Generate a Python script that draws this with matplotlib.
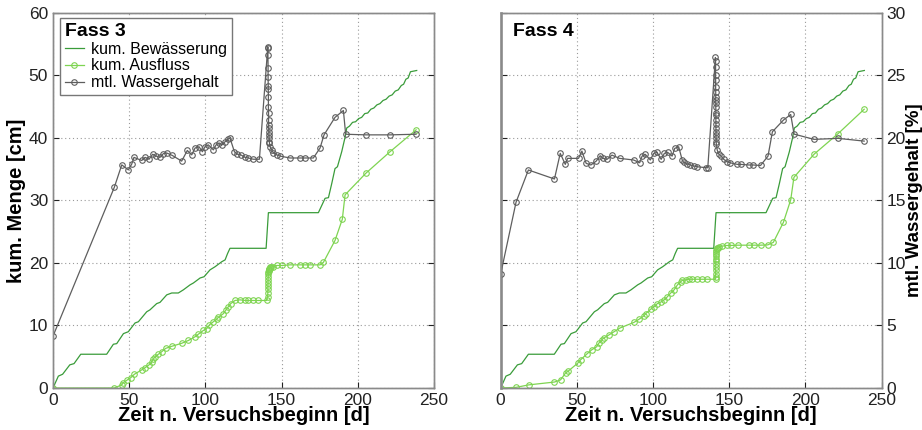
import matplotlib
matplotlib.use("Agg")
import matplotlib.pyplot as plt

plt.rcParams['font.family'] = ['Liberation Sans', 'DejaVu Sans']

# kum. Bewaesserung (same for both barrels) [cm]
bew_t = [0, 3.5, 6.3, 11, 13.8, 18.2, 35.2, 39.6, 41.8, 46.2,
         49.4, 53.8, 56, 61.5, 63.6, 68, 70.2, 74.6, 77.9, 82.2,
         85.5, 89.9, 92.1, 96.5, 99.1, 103, 106.3, 110.7, 112.9, 114.5,
         116.1, 139.8, 141.3, 174.1, 178.5, 180.7, 182.9, 185, 186.6, 189.4,
         191.5, 192.7, 194.5, 196.5, 198.5, 200.5, 202.5, 204.5, 206.5, 208.5,
         210.5, 212.5, 214.5, 216.5, 218.5, 220.5, 222.5, 224.5, 226.5, 228.5,
         230, 231.5, 233, 234.5, 238.6]
bew_cm = [0, 1.9, 2.2, 3.7, 3.9, 5.4, 5.4, 7.0, 7.1, 8.7,
          9.0, 10.4, 10.6, 12.2, 12.5, 13.5, 13.7, 14.9, 15.2, 15.2,
          15.7, 16.5, 16.8, 17.6, 17.8, 18.9, 19.4, 20.2, 20.5, 21.5,
          22.35, 22.35, 28.05, 28.05, 30.35, 30.45, 32.75, 35.1, 35.4, 37.8,
          40.0, 41.6, 41.9, 42.5, 42.6, 43.1, 43.3, 43.9, 44.0, 44.6,
          44.8, 45.3, 45.5, 46.0, 46.2, 46.7, 46.9, 47.5, 47.7, 48.4,
          48.6, 49.4, 49.6, 50.6, 50.8]

# Fass 3 - kum. Ausfluss [cm]
aus3_t = [0, 40.2, 45.1, 46.1, 48.8, 51, 53.4, 58.2, 60.4, 63,
          64.7, 65.8, 66.9, 69.1, 71.3, 74, 78.3, 84.4, 88.8, 93.2,
          95.3, 98.6, 100.8, 102.6, 105.2, 107.4, 108.5, 111.8, 113.5, 115,
          116.6, 119.4, 122.7, 126, 127.8, 131.4, 134.6, 140.2,
          140.8, 140.9, 141.0, 141.0, 141.1, 141.1, 141.2, 141.2, 141.3, 141.4,
          141.5, 141.7, 141.9, 142.2, 142.6, 143.3,
          144.6, 146.8, 150.1, 155.5, 162.1, 165.4, 168.6, 175.2, 177.4, 185,
          189.8, 191.6, 205.2, 221.1, 238.2]
aus3_cm = [0, 0, 0.5, 0.85, 1.3, 1.65, 2.2, 2.9, 3.25, 3.7,
           4.15, 4.6, 5.0, 5.4, 5.8, 6.35, 6.7, 7.15, 7.6, 8.2,
           8.6, 9.2, 9.5, 10.1, 10.6, 11.0, 11.3, 11.9, 12.5, 13.0,
           13.5, 14.0, 14.1, 14.0, 14.0, 14.0, 14.0, 14.0,
           14.6, 15.2, 15.8, 16.3, 16.8, 17.3, 17.8, 18.2, 18.5, 18.7,
           18.9, 19.0, 19.1, 19.2, 19.3, 19.35,
           19.4, 19.6, 19.6, 19.7, 19.7, 19.7, 19.7, 19.7, 20.1, 23.6,
           27.0, 30.9, 34.35, 37.8, 41.3]

# Fass 3 - mtl. Wassergehalt [%]
wg3_t = [0, 40.2, 45.1, 49.4, 51.6, 53.1, 58.2, 60.4, 63, 65.4,
         67.6, 70.2, 72.4, 74.6, 78.3, 84.4, 88.1, 91, 93.2, 95.8,
         98, 99.7, 101.9, 105.2, 107, 109, 110.7, 112.9, 114.6, 116.1,
         119, 121, 123.2, 126, 128.2, 131.4, 135.4,
         140.9, 141.0, 141.0, 141.1, 141.1, 141.2, 141.2, 141.3, 141.3, 141.4,
         141.4, 141.5, 141.5, 141.6, 141.7, 141.8, 141.9, 142.0,
         142.4, 143.5, 144.6, 146.8, 149, 155.5, 162.1, 165.4, 170.8, 175.2,
         177.8, 185, 190.5, 192, 205.2, 221.1, 238.2]
wg3_pct = [4.15, 16.05, 17.85, 17.45, 17.9, 18.45, 18.2, 18.45, 18.3, 18.7,
           18.55, 18.45, 18.75, 18.8, 18.6, 18.15, 19.0, 18.65, 19.2, 19.3,
           18.9, 19.3, 19.45, 19.05, 19.45, 19.6, 19.45, 19.7, 19.9, 20.0,
           18.9, 18.7, 18.65, 18.45, 18.4, 18.3, 18.3,
           27.3, 27.2, 26.65, 25.6, 24.9, 24.15, 23.9, 23.3, 22.5, 22.0,
           21.45, 21.05, 20.8, 20.5, 20.25, 20.0, 19.7, 19.6,
           19.3, 19.05, 18.8, 18.65, 18.55, 18.4, 18.4, 18.4, 18.4, 19.2,
           20.25, 21.65, 22.2, 20.3, 20.25, 20.25, 20.3]

# Fass 4 - kum. Ausfluss [cm]
aus4_t = [0, 10.1, 18.5, 35.3, 39.3, 42.6, 44.1, 50.7, 52.4, 56.4,
          59.7, 63, 64.5, 66.3, 67.8, 71.1, 74.4, 78.3, 87.5, 90.8,
          94.1, 95.2, 98.4, 100.7, 102.8, 105.5, 107.2, 109.4, 111.6, 113.8,
          116, 118.1, 119.1, 121.3, 123.5, 125.7, 129, 132.3, 135.6, 141.0,
          141.0, 141.0, 141.05, 141.1, 141.1, 141.15, 141.2, 141.25, 141.3, 141.4,
          141.5, 141.7, 142.0, 142.4,
          143.1, 145.4, 148.2, 150.8, 155.6, 162.9, 166.1, 170.5, 175.3, 178.9,
          185.5, 190.3, 192.4, 205.6, 221.4, 238.5]
aus4_cm = [0, 0.1, 0.5, 0.95, 1.3, 2.4, 2.65, 4.0, 4.5, 5.4,
           6.1, 6.6, 7.2, 7.7, 8.0, 8.5, 9.0, 9.6, 10.5, 11.0,
           11.55, 11.9, 12.6, 13.0, 13.5, 13.8, 14.1, 14.6, 15.2, 15.7,
           16.5, 17.0, 17.2, 17.3, 17.4, 17.4, 17.4, 17.4, 17.4, 17.4,
           17.8, 18.3, 18.8, 19.3, 19.8, 20.3, 20.7, 21.1, 21.5, 21.8,
           22.0, 22.2, 22.35, 22.45,
           22.6, 22.7, 22.8, 22.8, 22.85, 22.85, 22.85, 22.85, 22.9, 23.3,
           26.5, 30.1, 33.7, 37.4, 40.7, 44.6]

# Fass 4 - mtl. Wassergehalt [%]
wg4_t = [0, 10.1, 18.2, 35.3, 39.1, 42.4, 43.9, 51.1, 53.3, 56.1,
         59.2, 62.7, 65.3, 67.1, 69.8, 73, 78.0, 87.2, 91.2, 92.8,
         94.9, 98.2, 100.4, 102.6, 105.3, 107.4, 109.6, 112.5, 114.2, 116.8,
         119.1, 120.1, 122.4, 124.5, 126.7, 128.9, 135, 135.9,
         140.9, 141.0, 141.0, 141.0, 141.05, 141.05, 141.1, 141.1, 141.1, 141.15,
         141.15, 141.2, 141.2, 141.2, 141.25, 141.25, 141.3, 141.3, 141.35, 141.4,
         141.5,
         142.1, 143.1, 144.7, 146.4, 148.6, 150.4, 155.2, 157.4, 162.9, 165.7,
         170.5, 175.4, 178.3, 185.5, 190.3, 192.5, 205.6, 221.4, 238.5]
wg4_pct = [9.1, 14.86, 17.44, 16.72, 18.77, 17.89, 18.37, 18.37, 18.95, 17.97,
           17.84, 18.15, 18.58, 18.37, 18.29, 18.63, 18.37, 18.24, 18.02, 18.55,
           18.69, 18.24, 18.77, 18.85, 18.29, 18.77, 18.85, 18.55, 19.17, 19.3,
           18.24, 18.05, 17.92, 17.84, 17.76, 17.7, 17.62, 17.62,
           26.44, 26.17, 25.69, 25.02, 24.62, 24.09, 23.69, 23.29, 23.03, 22.76,
           22.49, 21.96, 21.83, 21.43, 21.11, 20.77, 20.5, 20.24, 19.97, 19.7,
           19.51,
           19.03, 18.71, 18.55, 18.29, 18.1, 18.02, 17.89, 17.89, 17.84, 17.84,
           17.8, 18.55, 20.5, 21.43, 21.88, 20.31, 19.89, 19.97, 19.75]

c_bew = '#3a9c3a'
c_aus = '#7ed451'
c_wg = '#5e5e5e'
spine_c = '#8a8a8a'
ms = 4.0

fig = plt.figure(figsize=(9.22, 4.30), dpi=100)


def setup(ax, ylim, yticks):
    ax.set_xlim(0, 250)
    ax.set_ylim(*ylim)
    ax.set_xticks([0, 50, 100, 150, 200, 250])
    ax.set_yticks(yticks)
    ax.tick_params(direction='in', length=4, labelsize=12.5, colors='#222222')
    for s in ax.spines.values():
        s.set_color(spine_c)
        s.set_linewidth(1.0)


panels = [
    (0.0575, 'Fass 3', aus3_t, aus3_cm, wg3_t, wg3_pct),
    (0.5430, 'Fass 4', aus4_t, aus4_cm, wg4_t, wg4_pct),
]

for i, (left, name, a_t, a_cm, w_t, w_pct) in enumerate(panels):
    ax = fig.add_axes([left, 0.0977, 0.4133, 0.8721])
    setup(ax, (0, 60), range(0, 61, 10))
    ax.grid(True, linestyle=(0, (1, 2.5)), color='#9a9a9a', linewidth=0.8)
    ax.set_xlabel('Zeit n. Versuchsbeginn [d]', fontsize=14.5, fontweight='bold', labelpad=-1)

    l1, = ax.plot(bew_t, bew_cm, color=c_bew, lw=0.9, label='kum. Bewässerung')
    l2, = ax.plot(a_t, a_cm, color=c_aus, lw=0.9, marker='o', ms=ms, mfc='none',
                  mew=0.8, label='kum. Ausfluss')

    ax2 = ax.twinx()
    setup(ax2, (0, 30), range(0, 31, 5))
    l3, = ax2.plot(w_t, w_pct, color=c_wg, lw=0.9, marker='o', ms=ms, mfc='none',
                   mew=0.8, label='mtl. Wassergehalt')

    if i == 0:
        ax.set_ylabel('kum. Menge [cm]', fontsize=14.5, fontweight='bold', labelpad=2)
        ax2.tick_params(labelright=False)
        leg = ax2.legend(handles=[l1, l2, l3], loc='upper left',
                         bbox_to_anchor=(0.018, 0.987), borderaxespad=0,
                         title=name, fontsize=11.5, handlelength=1.2,
                         handletextpad=0.45, labelspacing=0.12, borderpad=0.3,
                         fancybox=False, framealpha=1, edgecolor='#777777',
                         title_fontproperties={'weight': 'bold', 'size': 14})
        leg._legend_box.align = 'left'
        leg.get_frame().set_linewidth(1.0)
    else:
        ax.tick_params(labelleft=False)
        ax.spines['left'].set_linewidth(2.0)
        ax.spines['left'].set_color('#999999')
        ax2.set_ylabel('mtl. Wassergehalt [%]', fontsize=13.5, fontweight='bold',
                       rotation=90, labelpad=0)
        ax.text(0.033, 0.95, name, transform=ax.transAxes, fontsize=14,
                fontweight='bold', va='center', ha='left')

fig.savefig('out.png', dpi=100)
